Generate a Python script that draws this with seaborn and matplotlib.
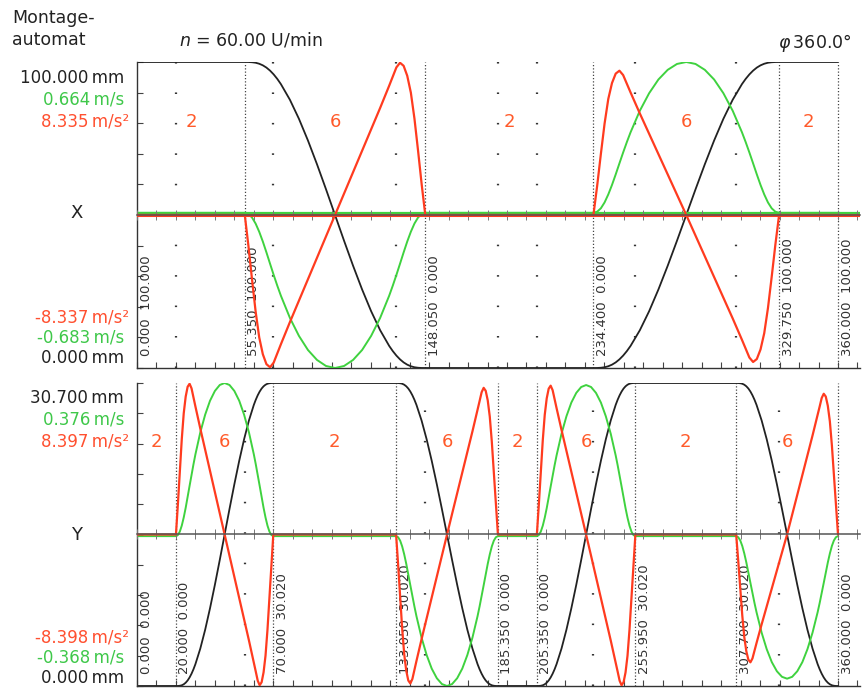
import numpy as np
import pandas as pd
import matplotlib
matplotlib.use("Agg")
import matplotlib.pyplot as plt
import matplotlib.transforms as mtransforms
import seaborn as sns

# ─── values ─────────────────────────────────────────────────
# motion law "6", normalised over one segment
law_t = [0, .02, .04, .06, .08, .10, .12, .14, .16, .18, .20, .25, .30, .35, .40, .45, .50,
         .55, .60, .65, .70, .75, .80, .82, .84, .86, .88, .90, .92, .94, .96, .98, 1]
law_s = [0, .0001, .0008, .0024, .0057, .0109, .0183, .0282, .0405, .0552, .0722, .1234,
         .1856, .2566, .3341, .4159, .5,
         .5841, .6659, .7434, .8144, .8766, .9278, .9448, .9595, .9718, .9817, .9891,
         .9943, .9976, .9992, .9999, 1]
law_v = [0, .0074, .030, .069, .122, .185, .255, .328, .400, .469, .534, .677, .793, .884,
         .948, .987, 1,
         .987, .948, .884, .793, .677, .534, .469, .400, .328, .255, .185, .122, .069,
         .030, .0074, 0]
law_a = [0, .20, .42, .63, .80, .91, .975, .995, .965, .905, .845, .70, .56, .42, .28, .14, 0,
         -.14, -.28, -.42, -.56, -.70, -.845, -.905, -.965, -.995, -.975, -.91, -.80, -.63,
         -.42, -.20, 0]

# X axis
x_deg = [0.0, 55.35, 148.05, 234.4, 329.75, 360.0]
x_pos = [100.0, 100.0, 0.0, 0.0, 100.0, 100.0]
x_law = [2, 6, 2, 6, 2]
x_v_peak = [0.0, -0.683, 0.0, 0.664, 0.0]
x_a_first = [0.0, -8.337, 0.0, 7.90, 0.0]
x_a_second = [0.0, 8.335, 0.0, -8.05, 0.0]
x_s_lim = (0.0, 100.0)
x_v_lim = (-0.683, 0.664)
x_a_lim = (-8.337, 8.335)
x_top_txt = ["100.000\u2009mm", "0.664\u2009m/s", "8.335\u2009m/s²"]
x_bot_txt = ["-8.337\u2009m/s²", "-0.683\u2009m/s", "0.000\u2009mm"]

# Y axis
y_deg = [0.0, 20.0, 70.0, 133.05, 185.35, 205.35, 255.95, 307.7, 360.0]
y_pos = [0.0, 0.0, 30.02, 30.02, 0.0, 0.0, 30.02, 30.02, 0.0]
y_law = [2, 6, 2, 6, 2, 6, 2, 6]
y_v_peak = [0.0, 0.376, 0.0, -0.368, 0.0, 0.371, 0.0, -0.350]
y_a_first = [0.0, 8.397, 0.0, -8.30, 0.0, 8.29, 0.0, -7.12]
y_a_second = [0.0, -8.398, 0.0, 8.17, 0.0, -8.40, 0.0, 7.84]
y_s_lim = (0.0, 30.02)
y_v_lim = (-0.368, 0.376)
y_a_lim = (-8.398, 8.397)
y_top_txt = ["30.700\u2009mm", "0.376\u2009m/s", "8.397\u2009m/s²"]
y_bot_txt = ["-8.398\u2009m/s²", "-0.368\u2009m/s", "0.000\u2009mm"]

C_S = "#222222"
C_V = "#3fd23f"
C_A = "#ff3b1f"
C_TXT_V = "#3fc84a"
C_TXT_A = "#ff5030"
C_NUM = "#ff5a2a"

sns.set_style("white")
plt.rcParams["font.family"] = ["DejaVu Sans"]

W, H = 864, 688
X_MAX = 360.0 * (860 - 137) / (838 - 137)


def build_curves(deg, pos, law, v_peak, a_first, a_second):
    t = np.array(law_t)
    ls, lv, la = np.array(law_s), np.array(law_v), np.array(law_a)
    parts = []
    for i in range(len(law)):
        d0, d1, p0, p1 = deg[i], deg[i + 1], pos[i], pos[i + 1]
        if law[i] == 2:  # Rast
            ang = np.array([d0, d1])
            s = np.array([p0, p1])
            v = np.zeros(2)
            a = np.zeros(2)
        else:
            ang = d0 + (d1 - d0) * t
            s = p0 + (p1 - p0) * ls
            v = lv * v_peak[i]
            a = np.where(la >= 0, la * a_first[i], -la * a_second[i])
        parts.append(pd.DataFrame({"deg": ang, "s": s, "v": v, "a": a}))
    return pd.concat(parts, ignore_index=True)


def px_axes(fig, l, t, r, b):
    return fig.add_axes([l / W, 1 - b / H, (r - l) / W, (b - t) / H])


def draw_panel(ax, deg, pos, law, v_peak, a_first, a_second, other_deg,
               s_lim, v_lim, a_lim, red_zero):
    df = build_curves(deg, pos, law, v_peak, a_first, a_second)
    ax_v = ax.twinx()
    ax_a = ax.twinx()

    # Raster: eigene Grenzen dicht, fremde Grenzen locker gepunktet
    for d in deg[1:]:
        ax.axvline(d, color="#444444", lw=0.9, ls=(0, (1, 1.6)), zorder=1)
    for d in other_deg[1:-1]:
        ax.axvline(d, color="#333333", lw=1.6, ls=(0, (0.7, 13.0)), zorder=1)

    sns.lineplot(data=df, x="deg", y="s", ax=ax, color=C_S, lw=1.3,
                 sort=False, estimator=None, legend=False)
    sns.lineplot(data=df, x="deg", y="v", ax=ax_v, color=C_V, lw=1.4,
                 sort=False, estimator=None, legend=False)
    sns.lineplot(data=df, x="deg", y="a", ax=ax_a, color=C_A, lw=1.6,
                 sort=False, estimator=None, legend=False)

    if red_zero:
        ax_v.axhline(0, color=C_V, lw=1.6)
        ax_a.axhline(0, color=C_A, lw=2.2)

    ax.set_xlim(0, X_MAX)
    ax.set_ylim(*s_lim)
    ax_v.set_ylim(*v_lim)
    ax_a.set_ylim(*a_lim)

    ax.set_xticks(np.arange(0, 371, 10))
    ax.set_yticks(np.linspace(s_lim[0], s_lim[1], 11))
    ax.tick_params(axis="both", direction="in", length=4, width=0.8,
                   color="#444444", labelbottom=False, labelleft=False,
                   bottom=True, left=True)
    for side in ["top", "right"]:
        ax.spines[side].set_visible(False)
    for side in ["left", "bottom"]:
        ax.spines[side].set_color("#333333")
        ax.spines[side].set_linewidth(1.0)

    for a_ in (ax_v, ax_a):
        for sp in a_.spines.values():
            sp.set_visible(False)
        a_.tick_params(axis="y", left=False, right=False,
                       labelleft=False, labelright=False)
        a_.set_xlabel("")
        a_.set_ylabel("")
    ax.set_xlabel("")
    ax.set_ylabel("")

    # Nulllinie mit Gradteilung
    ax_a.xaxis.set_visible(True)
    ax_a.spines["bottom"].set_visible(True)
    ax_a.spines["bottom"].set_position(("data", 0))
    ax_a.spines["bottom"].set_color("#555555")
    ax_a.spines["bottom"].set_linewidth(1.1)
    ax_a.tick_params(axis="x", direction="inout", length=7, width=0.7,
                     color="#777777", labelbottom=False, bottom=True, top=False)

    # Drehwinkel / Position an den Grenzen
    off = mtransforms.offset_copy(ax.get_xaxis_transform(), fig=ax.figure,
                                  x=9, y=0, units="dots")
    for d, p in zip(deg, pos):
        ax.text(d, 0.04, f"{d:.3f}  {p:.3f}", transform=off, rotation=90,
                rotation_mode="anchor", ha="left", va="center",
                fontsize=9.5, color="#333333")

    # Bewegungsgesetz je Abschnitt
    for i, lw_ in enumerate(law):
        ax.text((deg[i] + deg[i + 1]) / 2, 0.805, str(lw_),
                transform=ax.get_xaxis_transform(), ha="center", va="center",
                fontsize=13, color=C_NUM)


fig = plt.figure(figsize=(W / 100, H / 100), dpi=100)
ax_x = px_axes(fig, 137, 62, 860, 368)
ax_y = px_axes(fig, 137, 383, 860, 686)

draw_panel(ax_x, x_deg, x_pos, x_law, x_v_peak, x_a_first, x_a_second, y_deg,
           x_s_lim, x_v_lim, x_a_lim, red_zero=True)
draw_panel(ax_y, y_deg, y_pos, y_law, y_v_peak, y_a_first, y_a_second, x_deg,
           y_s_lim, y_v_lim, y_a_lim, red_zero=False)


def ftext(x, y, s, **kw):
    fig.text(x / W, 1 - y / H, s, **kw)


ftext(12, 29, "Montage-\nautomat", ha="left", va="center", fontsize=12.5,
      color="#222222", linespacing=1.25)
ftext(251, 40, "$n$ = 60.00 U/min", ha="center", va="center", fontsize=12.5,
      color="#222222")
ftext(815, 43, "$\\varphi$\u2009360.0°", ha="center", va="center", fontsize=12.5,
      color="#222222")

cols = [C_S, C_TXT_V, C_TXT_A]
for txt, y, c in zip(x_top_txt, [78, 99, 121], cols):
    ftext(129 if "²" in txt else 124, y, txt, ha="right", va="center",
          fontsize=12, color=c)
for txt, y, c in zip(x_bot_txt, [317, 338, 358], cols[::-1]):
    ftext(129 if "²" in txt else 124, y, txt, ha="right", va="center",
          fontsize=12, color=c)
for txt, y, c in zip(y_top_txt, [398, 419, 442], cols):
    ftext(129 if "²" in txt else 124, y, txt, ha="right", va="center",
          fontsize=12, color=c)
for txt, y, c in zip(y_bot_txt, [637, 658, 678], cols[::-1]):
    ftext(129 if "²" in txt else 124, y, txt, ha="right", va="center",
          fontsize=12, color=c)

ftext(77, 213, "X", ha="center", va="center", fontsize=13, color="#222222")
ftext(77, 535, "Y", ha="center", va="center", fontsize=13, color="#222222")

fig.savefig("out.png", dpi=100)
